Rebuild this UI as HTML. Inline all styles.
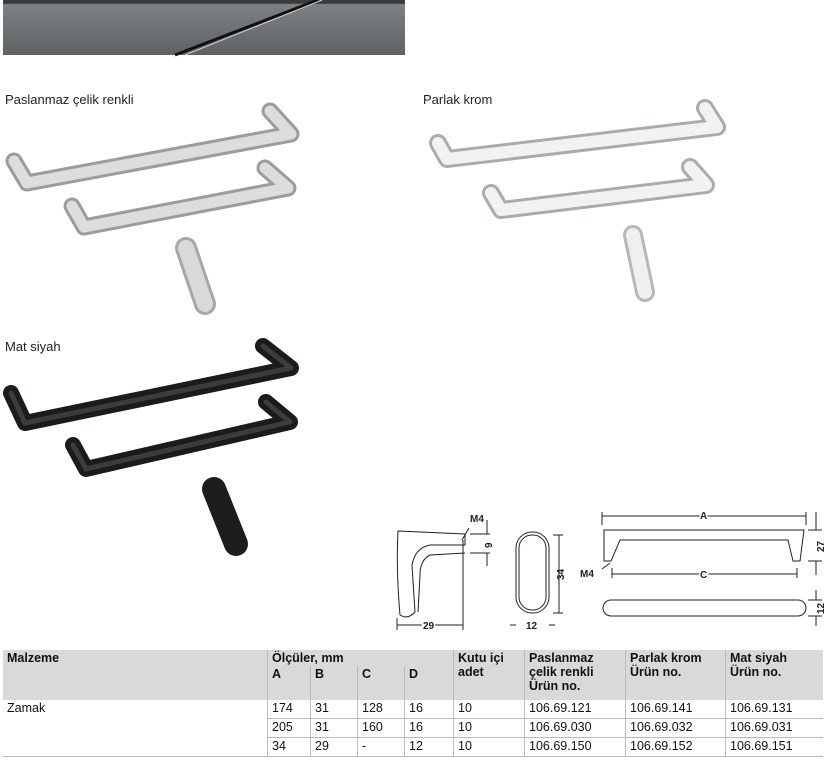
<!DOCTYPE html>
<html><head><meta charset="utf-8"><style>
body{margin:0;width:825px;height:760px;position:relative;background:#fff;font-family:"Liberation Sans",sans-serif;overflow:hidden}
.lbl{position:absolute;font-size:13px;color:#222}
svg{position:absolute;left:0;top:0}
table{position:absolute;left:3px;top:650px;border-collapse:collapse;font-size:12.5px;color:#111;width:820px}
td{padding:1px 4px;vertical-align:top;height:16px}
.h{background:#d9d9d9;font-weight:bold}
.bl{border-left:1px solid #bbb}
.r td{border-bottom:1px solid #bbb}
</style></head><body>
<svg width="825" height="760" viewBox="0 0 825 760">
<defs>
<linearGradient id="ban" x1="0" y1="0" x2="0" y2="1"><stop offset="0" stop-color="#3a3d40"/><stop offset="0.06" stop-color="#3a3d40"/><stop offset="0.08" stop-color="#7d8184"/><stop offset="1" stop-color="#5e6265"/></linearGradient>
</defs>
<rect x="3" y="0" width="402" height="55" fill="url(#ban)"/>
<path d="M175 55 L318 0" stroke="#111" stroke-width="3"/>
<path d="M185 55 L322 0" stroke="#cfd2d4" stroke-width="1"/>
<g fill="none" stroke-linecap="round" stroke-linejoin="round">
<g stroke="#9a9c9e" stroke-width="17"><polyline points="14,161 27,183 291,134 270,111"/><polyline points="72,206 84,227 288,188 265,168"/></g>
<g stroke="#dcdddf" stroke-width="11"><polyline points="14,161 27,183 291,134 270,111"/><polyline points="72,206 84,227 288,188 265,168"/></g>
<polyline points="186,248 205,304" stroke="#a5a7a9" stroke-width="22"/>
<polyline points="186,248 205,304" stroke="#d8d9da" stroke-width="16"/>
<g stroke="#a9acae" stroke-width="18"><polyline points="438,143 447,159 717,127 705,108"/><polyline points="491,193 501,210 706,185 690,167"/></g>
<g stroke="#f2f2f2" stroke-width="12"><polyline points="438,143 447,159 717,127 705,108"/><polyline points="491,193 501,210 706,185 690,167"/></g>
<polyline points="633,235 645,292" stroke="#b5b7b9" stroke-width="20"/>
<polyline points="633,235 645,292" stroke="#efefef" stroke-width="14"/>
<g stroke="#1a1b1c" stroke-width="16"><polyline points="11,393 25,423 291,368 263,346"/><polyline points="73,445 86,469 290,422 266,402"/></g>
<g stroke="#3a3c3e" stroke-width="5"><polyline points="11,393 25,423 291,368 263,346"/><polyline points="73,445 86,469 290,422 266,402"/></g>
<polyline points="214,489 236,544" stroke="#1b1c1d" stroke-width="24"/>
</g>
<g fill="none" stroke="#222" stroke-width="1">
<path d="M398 531 L465 534 L465 545 L430 545 Q415 548 412 565 L415 612 Q408 620 400 615 Q396 570 398 531 Z"/>
<path d="M465 553 L430 555 Q420 560 420 575 L418 612"/>
<rect x="516" y="532" width="33" height="81" rx="16"/><rect x="519" y="535" width="27" height="75" rx="13"/>
<path d="M604 530 L804 530 L800 561 L793 561 L788 540 L620 540 L611 561 L604 561 Z"/>
<rect x="603" y="600" width="203" height="16" rx="8"/>
<path d="M397 625 L463 625 M397 618 L397 630 M463 540 L463 630 M510 625 L516 625 M555 625 L549 625 M553 535 L563 535 M553 613 L563 613 M559 535 L559 613 M470 534 L490 534 M470 553 L490 553 M487 520 L487 534 M487 553 L487 566 M602 512 L602 525 M806 512 L806 525 M602 516 L806 516 M612 568 L612 578 M797 568 L797 578 M612 574 L797 574 M808 530 L822 530 M808 561 L822 561 M816 512 L816 530 M816 561 L816 575 M808 600 L822 600 M808 616 L822 616 M816 590 L816 600 M816 616 L816 626 M469 528 L462 540 M602 569 L610 563"/>
</g>
<g font-family="Liberation Sans" font-size="10" font-weight="bold" fill="#222">
<text x="470" y="522">M4</text><text x="580" y="577">M4</text>
<text x="423" y="629" fill="#222" stroke="#fff" stroke-width="3" paint-order="stroke">29</text>
<text x="526" y="629">12</text>
<text x="700" y="519" stroke="#fff" stroke-width="3" paint-order="stroke">A</text>
<text x="700" y="578" stroke="#fff" stroke-width="3" paint-order="stroke">C</text>
<text transform="translate(492,548) rotate(-90)">9</text>
<text transform="translate(564,580) rotate(-90)">34</text>
<text transform="translate(824,552) rotate(-90)">27</text>
<text transform="translate(824,614) rotate(-90)">12</text>
</g>
</svg>
<div class="lbl" style="left:5px;top:92px">Paslanmaz çelik renkli</div>
<div class="lbl" style="left:423px;top:92px">Parlak krom</div>
<div class="lbl" style="left:5px;top:339px">Mat siyah</div>
<table>
<tr class="h"><td rowspan="2" style="width:256px">Malzeme</td><td colspan="4" class="bl" style="height:14px">Ölçüler, mm</td><td rowspan="2" class="bl" style="width:62px">Kutu içi<br>adet</td><td rowspan="2" class="bl" style="width:92px">Paslanmaz<br>çelik renkli<br>Ürün no.</td><td rowspan="2" class="bl" style="width:91px">Parlak krom<br>Ürün no.</td><td rowspan="2" class="bl">Mat siyah<br>Ürün no.</td></tr>
<tr class="h"><td class="bl" style="width:34px;height:32px">A</td><td class="bl" style="width:38px">B</td><td class="bl" style="width:38px">C</td><td class="bl" style="width:40px">D</td></tr>
<tr class="r"><td rowspan="3" style="border-bottom:1px solid #bbb">Zamak</td><td class="bl">174</td><td class="bl">31</td><td class="bl">128</td><td class="bl">16</td><td class="bl">10</td><td class="bl">106.69.121</td><td class="bl">106.69.141</td><td class="bl">106.69.131</td></tr>
<tr class="r"><td class="bl">205</td><td class="bl">31</td><td class="bl">160</td><td class="bl">16</td><td class="bl">10</td><td class="bl">106.69.030</td><td class="bl">106.69.032</td><td class="bl">106.69.031</td></tr>
<tr class="r"><td class="bl">34</td><td class="bl">29</td><td class="bl">-</td><td class="bl">12</td><td class="bl">10</td><td class="bl">106.69.150</td><td class="bl">106.69.152</td><td class="bl">106.69.151</td></tr>
</table>
</body></html>
